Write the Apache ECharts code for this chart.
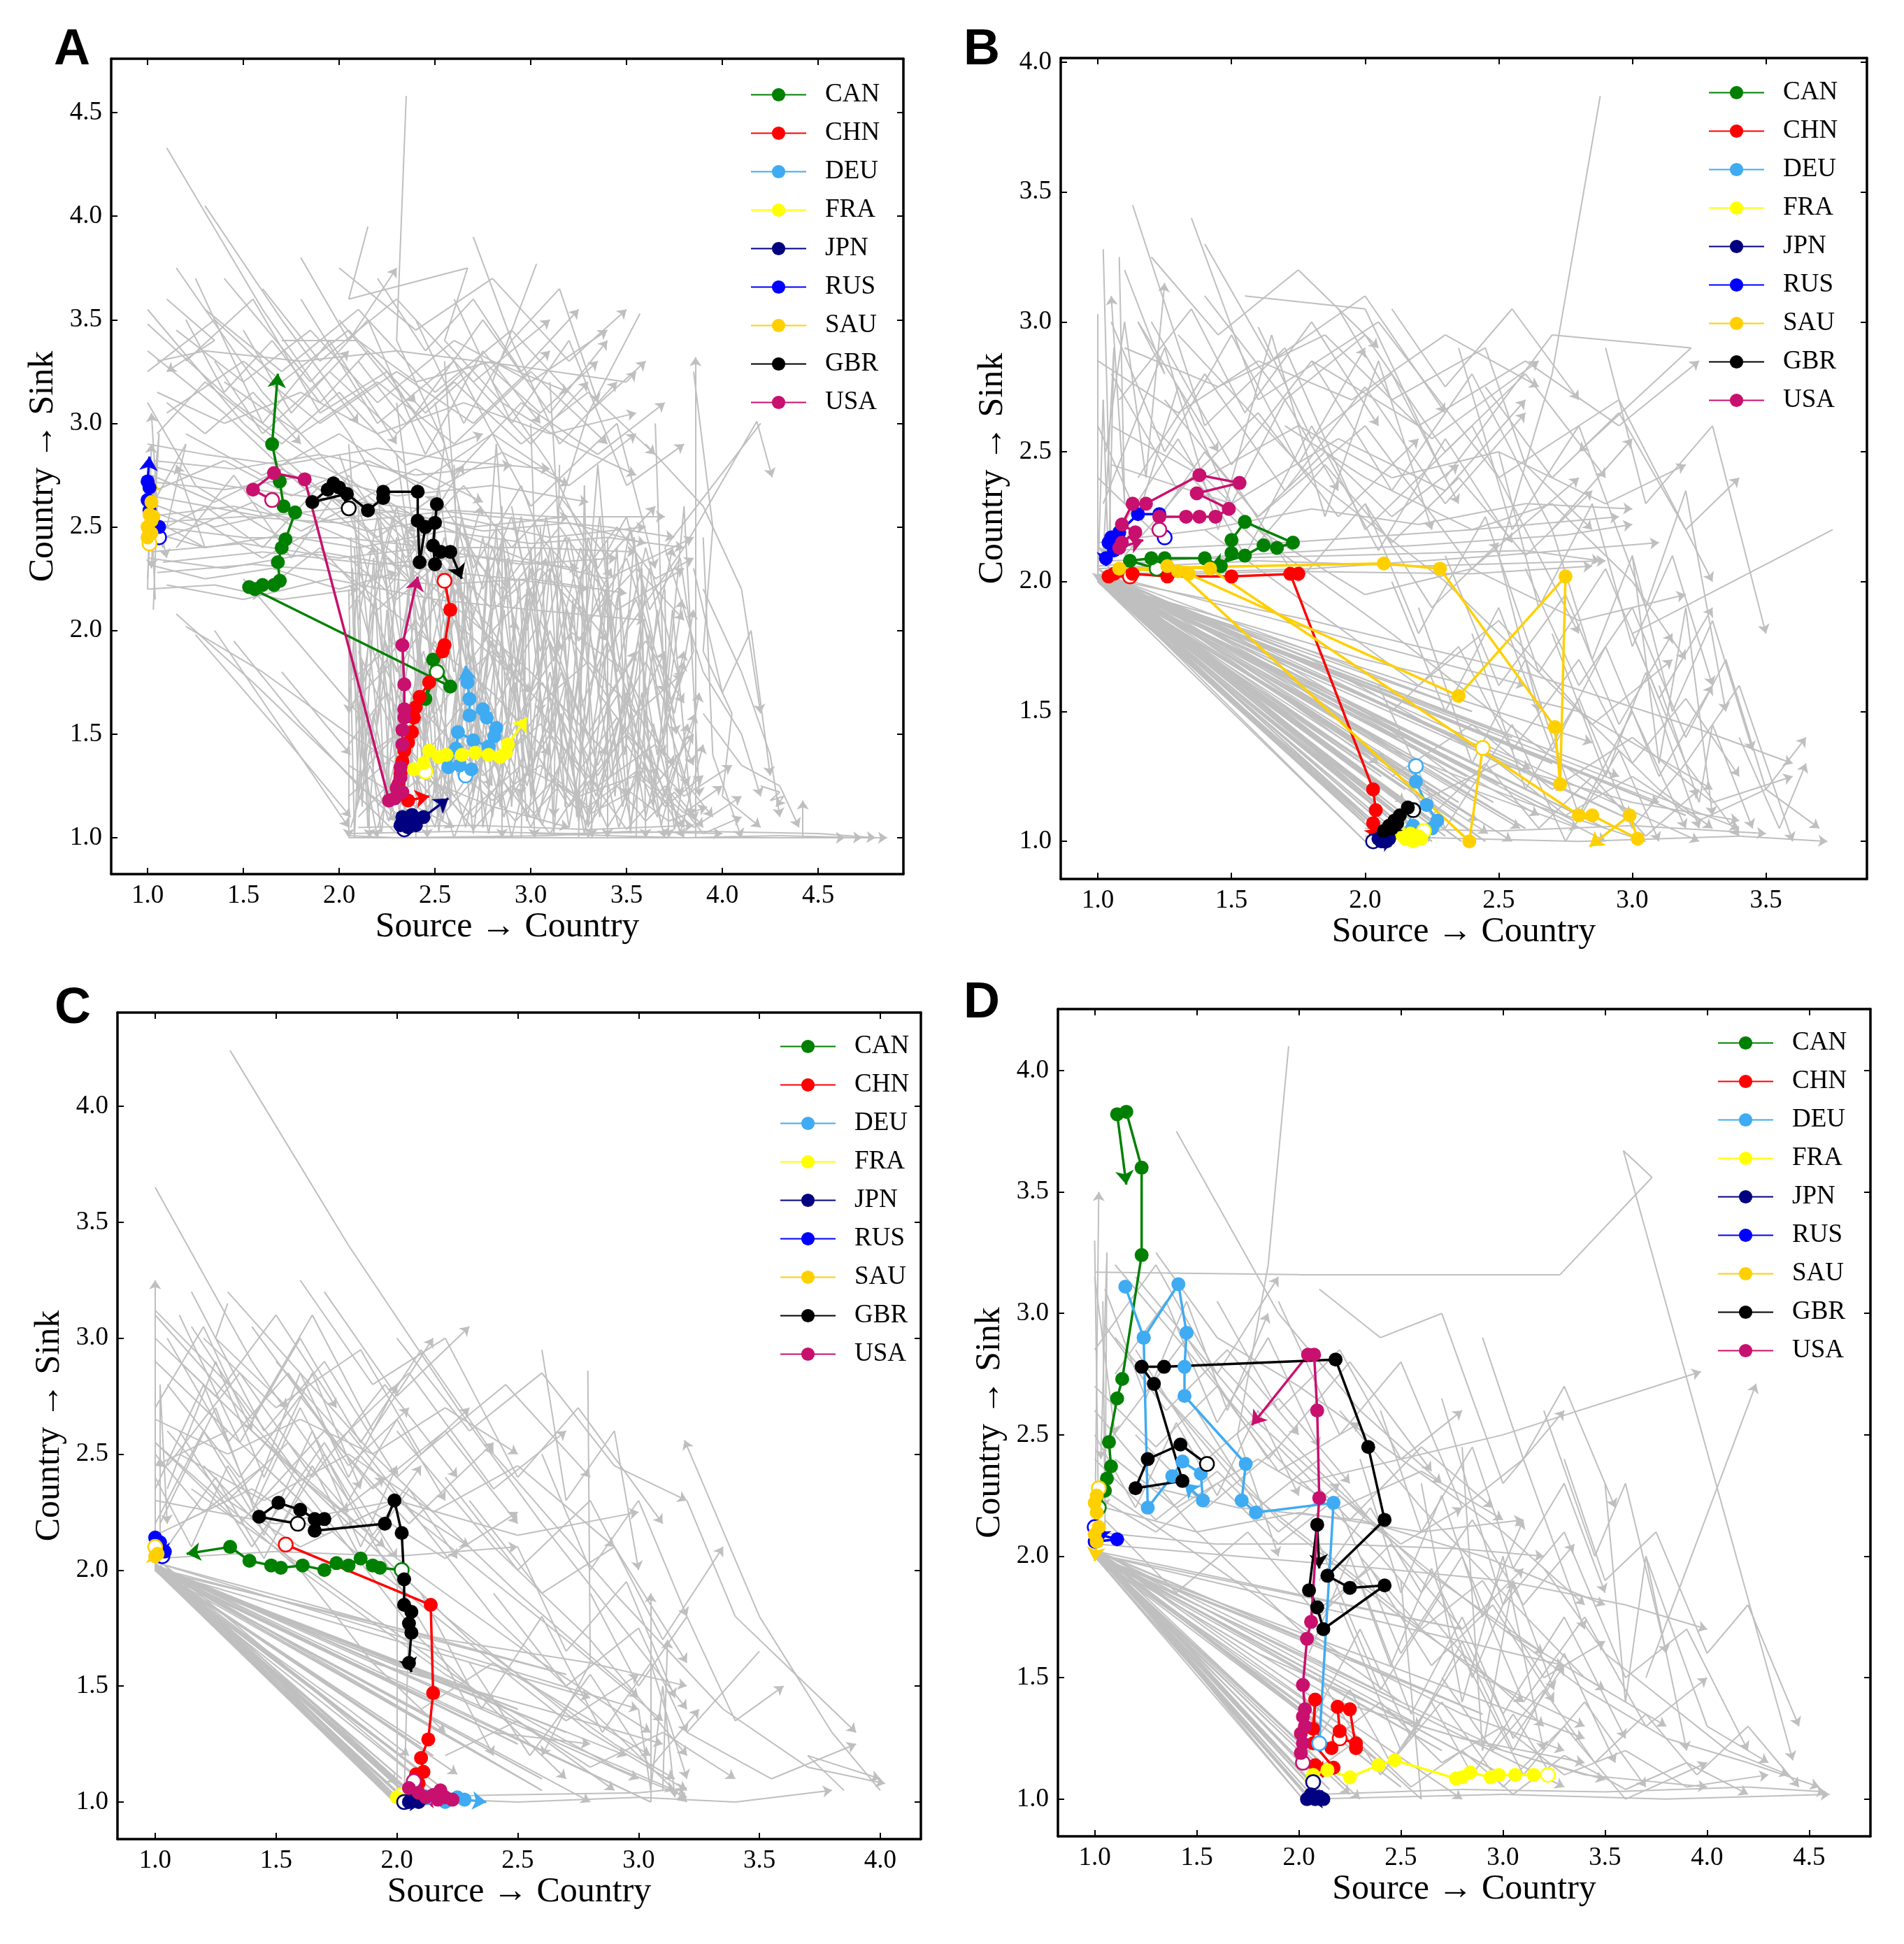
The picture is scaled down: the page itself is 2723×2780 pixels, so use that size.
<!DOCTYPE html>
<html>
<head>
<meta charset="utf-8">
<script src="https://cdn.jsdelivr.net/npm/echarts@6/dist/echarts.min.js"></script>
<style>
  html, body { margin: 0; padding: 0; background: #fff; }
  #main { width: 2723px; height: 2780px; }
</style>
</head>
<body>
<div id="main"></div>
<script>
// countries and colours shared by all four panels
const countries = ['CAN', 'CHN', 'DEU', 'FRA', 'JPN', 'RUS', 'SAU', 'GBR', 'USA'];
const colors = ['#008000', '#ff0000', '#3fabf2', '#ffff00', '#000080', '#0000ff', '#ffd000', '#000000', '#c8106e'];

// axis ranges per panel [xmin, xmax, ymin, ymax]
const rangeA = [0.81, 4.945, 0.8245, 4.76];
const rangeB = [0.861, 3.878, 0.855, 4.016];
const rangeC = [0.844, 4.168, 0.84, 4.404];
const rangeD = [0.82, 4.80, 0.847, 4.253];

// highlighted country tracks, flat x,y lists in the order of `countries`
// first point is drawn hollow, last point is the arrow head
const tracksA = [
  [2.51,1.80, 2.45,1.67, 2.49,1.86, 2.58,1.73, 1.53,2.21, 1.56,2.20, 1.60,2.22, 1.66,2.22, 1.69,2.24, 1.68,2.33, 1.70,2.40, 1.72,2.44, 1.77,2.57, 1.71,2.60, 1.69,2.72, 1.65,2.90, 1.68,3.24],
  [2.55,2.24, 2.58,2.10, 2.55,1.93, 2.54,1.90, 2.47,1.75, 2.42,1.68, 2.40,1.63, 2.39,1.58, 2.38,1.51, 2.36,1.46, 2.34,1.42, 2.33,1.37, 2.32,1.31, 2.31,1.26, 2.32,1.21, 2.36,1.18, 2.47,1.20],
  [2.66,1.30, 2.69,1.33, 2.63,1.35, 2.57,1.34, 2.61,1.43, 2.62,1.51, 2.70,1.47, 2.78,1.44, 2.81,1.49, 2.82,1.53, 2.77,1.58, 2.75,1.62, 2.68,1.59, 2.68,1.67, 2.67,1.75, 2.66,1.83],
  [2.45,1.32, 2.39,1.33, 2.44,1.36, 2.47,1.42, 2.52,1.39, 2.56,1.40, 2.64,1.40, 2.71,1.41, 2.78,1.40, 2.84,1.39, 2.87,1.41, 2.88,1.45, 2.98,1.58],
  [2.34,1.04, 2.32,1.06, 2.36,1.05, 2.33,1.10, 2.37,1.08, 2.40,1.06, 2.38,1.11, 2.41,1.09, 2.44,1.10, 2.57,1.19],
  [1.06,2.45, 1.06,2.50, 1.03,2.52, 1.01,2.58, 1.00,2.63, 1.01,2.69, 1.00,2.72, 1.01,2.84],
  [1.01,2.42, 1.00,2.45, 1.02,2.47, 1.00,2.50, 1.02,2.53, 1.03,2.55, 1.01,2.56, 1.02,2.62, 1.02,2.74],
  [2.05,2.59, 2.00,2.69, 1.97,2.71, 1.94,2.68, 1.86,2.62, 2.04,2.66, 2.15,2.58, 2.23,2.64, 2.23,2.67, 2.41,2.67, 2.41,2.53, 2.42,2.33, 2.45,2.50, 2.50,2.52, 2.51,2.61, 2.49,2.41, 2.50,2.32, 2.53,2.38, 2.58,2.38, 2.64,2.25],
  [1.65,2.63, 1.55,2.68, 1.66,2.76, 1.82,2.73, 2.26,1.18, 2.29,1.19, 2.33,1.22, 2.30,1.24, 2.32,1.29, 2.32,1.34, 2.33,1.45, 2.33,1.52, 2.34,1.58, 2.34,1.62, 2.34,1.74, 2.33,1.93, 2.41,2.26]
];
const tracksB = [
  [1.22,2.05, 1.12,2.08, 1.20,2.09, 1.25,2.09, 1.40,2.09, 1.46,2.06, 1.50,2.11, 1.50,2.16, 1.55,2.23, 1.73,2.15, 1.67,2.13, 1.62,2.14, 1.55,2.10, 1.42,2.06],
  [1.12,2.02, 1.04,2.02, 1.06,2.03, 1.13,2.03, 1.26,2.02, 1.50,2.02, 1.75,2.03, 1.72,2.03, 2.03,1.20, 2.04,1.12, 2.03,1.07, 2.04,1.03, 2.05,1.01],
  [2.19,1.29, 2.19,1.23, 2.23,1.14, 2.27,1.08, 2.25,1.05, 2.22,1.03, 2.18,1.06, 2.14,1.04],
  [2.22,1.04, 2.20,1.02, 2.17,1.03, 2.15,1.01, 2.18,1.00, 2.21,1.01, 2.16,1.02, 2.10,1.02],
  [2.03,1.00, 2.05,1.01, 2.07,1.00, 2.09,1.01, 2.06,1.00, 2.08,1.00, 2.11,1.01],
  [1.25,2.17, 1.23,2.26, 1.15,2.26, 1.08,2.19, 1.05,2.17, 1.04,2.15, 1.06,2.12, 1.03,2.09, 1.03,2.06],
  [2.44,1.36, 2.39,1.00, 1.30,2.04, 1.08,2.05, 2.07,2.07, 2.28,2.05, 2.71,1.44, 2.73,1.22, 2.75,2.02, 2.35,1.56, 1.34,2.03, 1.26,2.06, 1.42,2.05, 2.80,1.10, 2.85,1.10, 3.02,1.01, 2.99,1.10, 2.84,0.98],
  [2.18,1.12, 2.16,1.13, 2.13,1.10, 2.11,1.08, 2.09,1.06, 2.07,1.04, 2.10,1.05, 2.12,1.07, 2.08,1.03],
  [1.23,2.20, 1.23,2.25, 1.33,2.25, 1.38,2.25, 1.44,2.25, 1.49,2.28, 1.37,2.34, 1.53,2.38, 1.38,2.41, 1.18,2.30, 1.13,2.30, 1.09,2.22, 1.14,2.19, 1.09,2.15, 1.08,2.13, 1.17,2.16]
];
const tracksC = [
  [2.02,2.00, 1.93,2.01, 1.90,2.02, 1.85,2.05, 1.80,2.02, 1.75,2.03, 1.70,2.00, 1.61,2.02, 1.52,2.01, 1.48,2.02, 1.39,2.04, 1.31,2.10, 1.13,2.07],
  [1.54,2.11, 2.14,1.85, 2.15,1.47, 2.13,1.27, 2.10,1.19, 2.11,1.13, 2.08,1.12, 2.09,1.08, 2.07,1.05, 2.05,1.03],
  [2.12,1.02, 2.18,1.03, 2.22,1.01, 2.25,1.02, 2.20,1.00, 2.28,1.01, 2.37,1.00],
  [2.02,1.03, 2.00,1.02, 2.03,1.01, 1.99,1.01],
  [2.03,1.00, 2.06,1.01, 2.09,1.00, 2.05,1.00, 2.11,1.00],
  [1.03,2.06, 1.04,2.08, 1.01,2.10, 1.00,2.14, 1.02,2.12, 1.04,2.05],
  [1.00,2.10, 1.01,2.07, 1.00,2.06, 1.00,2.09],
  [1.59,2.20, 1.43,2.23, 1.51,2.29, 1.60,2.26, 1.66,2.22, 1.70,2.22, 1.66,2.17, 1.95,2.20, 1.99,2.30, 2.02,2.16, 2.03,1.96, 2.03,1.85, 2.06,1.82, 2.05,1.77, 2.06,1.73, 2.05,1.60, 2.06,1.56],
  [2.07,1.09, 2.05,1.06, 2.09,1.04, 2.12,1.02, 2.15,1.03, 2.18,1.05, 2.20,1.02, 2.23,1.01, 2.17,1.01, 2.10,1.02]
];
const tracksD = [
  [1.02,2.20, 1.05,2.27, 1.06,2.32, 1.08,2.37, 1.07,2.47, 1.11,2.65, 1.135,2.73, 1.23,3.24, 1.23,3.60, 1.155,3.83, 1.11,3.82, 1.155,3.53],
  [2.20,1.25, 2.28,1.23, 2.28,1.21, 2.25,1.37, 2.19,1.38, 2.20,1.28, 2.16,1.21, 2.07,1.29, 2.08,1.41, 2.07,1.23, 2.17,1.13, 2.08,1.14, 2.12,1.09],
  [2.10,1.23, 2.17,2.22, 1.79,2.18, 1.72,2.23, 1.74,2.38, 1.44,2.66, 1.44,2.78, 1.45,2.92, 1.41,3.12, 1.24,2.90, 1.15,3.11, 1.24,2.90, 1.26,2.20, 1.38,2.33, 1.43,2.39, 1.52,2.34, 1.53,2.23, 1.44,2.30],
  [3.22,1.10, 3.15,1.10, 3.06,1.10, 2.98,1.10, 2.94,1.09, 2.84,1.11, 2.80,1.09, 2.77,1.085, 2.47,1.16, 2.39,1.14, 2.25,1.09, 2.14,1.12, 2.07,1.10, 2.10,1.09],
  [2.07,1.07, 2.06,1.02, 2.04,1.00, 2.08,1.00, 2.10,1.01, 2.12,1.00, 2.05,1.00],
  [1.00,2.12, 1.01,2.08, 1.00,2.06, 1.11,2.07, 1.02,2.09, 1.00,2.10],
  [1.02,2.28, 1.01,2.25, 1.00,2.22, 1.01,2.18, 1.02,2.12, 1.00,2.09, 1.01,2.06, 1.00,1.98],
  [1.55,2.38, 1.42,2.46, 1.26,2.40, 1.20,2.28, 1.43,2.31, 1.29,2.71, 1.23,2.78, 1.34,2.78, 2.18,2.81, 2.34,2.45, 2.42,2.15, 2.14,1.92, 2.25,1.87, 2.42,1.88, 2.12,1.70, 2.09,1.79, 2.05,1.86, 2.09,2.13, 2.10,1.95],
  [2.02,1.15, 2.01,1.19, 2.02,1.23, 2.01,1.27, 2.03,1.30, 2.02,1.34, 2.03,1.37, 2.02,1.47, 2.04,1.66, 2.06,1.73, 2.10,2.24, 2.09,2.60, 2.075,2.83, 2.045,2.83, 1.77,2.54]
];

// background trajectories of all other countries (grey), flat x,y lists
const grayA = [
  [1.10,4.33, 1.60,3.55, 2.05,2.95, 2.30,2.55, 2.60,2.20, 2.90,1.80],
  [2.35,4.58, 2.30,3.40, 2.55,2.90, 2.48,2.40, 2.70,2.10, 2.62,1.50, 2.80,1.25],
  [1.00,3.48, 1.45,3.10, 1.90,2.80, 2.40,2.55, 2.95,2.35, 3.40,2.25, 3.85,2.45],
  [1.05,3.30, 1.30,3.35, 1.80,3.30, 2.30,3.35, 2.90,3.28, 3.50,3.20, 3.55,3.25],
  [2.15,3.95, 2.05,3.60, 2.67,3.75, 2.55,3.40, 2.85,3.10, 3.20,2.90, 3.55,2.75],
  [3.03,3.77, 2.80,3.20, 3.10,2.80, 3.30,2.40, 3.20,2.00, 3.50,1.80, 3.70,1.40],
  [3.57,3.53, 3.30,3.05, 3.15,2.60, 3.40,2.20, 3.35,1.70, 3.60,1.40, 3.80,1.05],
  [3.86,1.00, 3.86,3.32],
  [3.50,2.00, 3.80,2.40, 4.18,3.01, 4.26,2.74],
  [4.20,1.25, 4.30,1.22, 4.25,1.18, 4.32,1.20, 4.28,1.15],
  [4.42,1.00, 4.42,1.18],
  [2.05,1.00, 2.90,1.00, 3.60,1.00, 4.20,1.00, 4.64,1.00],
  [3.00,1.02, 3.80,1.00, 4.30,1.01, 4.73,1.00],
  [4.00,1.00, 4.86,1.00],
  [1.00,2.20, 1.02,2.90],
  [1.03,2.10, 1.05,2.60, 1.02,3.05],
  [1.00,2.80, 1.40,2.70, 1.80,2.65, 2.30,2.60, 2.80,2.55, 3.40,2.50, 3.75,2.45],
  [1.05,2.50, 1.50,2.45, 2.00,2.45, 2.50,2.40, 3.00,2.40, 3.55,2.38],
  [1.00,2.35, 1.40,2.30, 1.90,2.38, 2.40,2.30, 2.90,2.25, 3.30,2.20],
  [1.02,2.65, 1.60,2.55, 2.10,2.60, 2.70,2.50, 3.20,2.55],
  [1.10,2.22, 1.50,2.15, 1.95,2.25, 2.50,2.15, 3.00,2.10, 3.60,2.05],
  [1.00,3.10, 1.25,2.70, 1.60,2.50, 2.00,2.30, 2.40,2.00, 2.80,1.70, 3.10,1.40],
  [1.20,2.02, 1.60,1.80, 2.05,1.50, 2.40,1.30, 2.80,1.15, 3.20,1.05],
  [1.35,2.00, 2.05,1.05],
  [1.50,2.25, 2.10,1.60, 2.30,1.20, 2.60,1.05],
  [2.05,2.00, 2.05,1.00],
  [2.10,2.60, 2.12,1.40, 2.20,1.00],
  [2.20,2.55, 2.40,1.20, 2.60,2.40, 2.80,1.10, 3.00,2.30, 3.20,1.05, 3.40,2.20, 3.60,1.10, 3.80,1.90],
  [2.10,1.90, 2.50,1.05, 2.70,1.90, 2.90,1.00, 3.10,1.80, 3.30,1.00, 3.50,1.70, 3.70,1.00],
  [2.30,1.70, 2.60,1.20, 2.90,1.60, 3.20,1.15, 3.50,1.50, 3.80,1.20, 4.05,1.35],
  [2.15,1.40, 2.45,1.60, 2.75,1.30, 3.05,1.55, 3.35,1.25, 3.65,1.45, 3.95,1.10],
  [2.05,1.20, 2.35,1.45, 2.65,1.10, 2.95,1.35, 3.25,1.20, 3.55,1.30, 3.85,1.05, 4.10,1.20],
  [2.85,2.60, 2.85,1.00],
  [3.40,2.45, 3.40,1.00],
  [3.70,2.20, 3.72,1.00],
  [3.15,2.80, 3.12,1.10],
  [2.50,3.10, 2.70,2.30, 2.95,2.70, 3.25,1.95, 3.50,2.35, 3.75,1.60, 3.85,2.10],
  [1.80,3.60, 2.20,3.00, 2.60,3.30, 3.00,2.60, 3.45,3.00, 3.65,2.30],
  [1.40,3.70, 1.85,3.20, 2.15,3.50, 2.45,2.85, 2.75,3.35, 3.05,3.00],
  [1.20,3.30, 1.55,3.60, 1.90,3.05, 2.25,3.25, 2.60,2.75, 2.95,3.10, 3.35,2.85, 3.70,3.10],
  [1.05,2.95, 1.30,3.20, 1.70,2.90, 2.00,3.15, 2.35,2.80, 2.75,2.95],
  [2.60,3.60, 2.90,3.00, 3.20,3.40, 3.50,2.70, 3.80,2.90],
  [4.20,3.00, 3.70,2.40, 3.90,1.80, 4.10,1.50, 4.20,1.20],
  [3.90,2.45, 3.95,1.40, 4.10,1.00],
  [1.00,2.45, 1.30,2.60, 1.60,2.40, 1.90,2.70, 2.20,2.45, 2.50,2.65],
  [1.55,2.15, 1.90,2.40, 2.20,2.10, 2.50,2.35, 2.80,2.00, 3.10,2.30, 3.40,1.95],
  [2.00,2.85, 2.25,2.20, 2.55,2.60, 2.85,2.15, 3.15,2.50, 3.45,2.10, 3.80,2.30],
  [1.15,2.40, 1.45,2.75, 1.75,2.35, 2.05,2.75, 2.35,2.35, 2.65,2.80],
  [2.40,1.95, 2.55,1.40, 2.75,1.75, 2.95,1.25, 3.15,1.65, 3.35,1.30, 3.55,1.60, 3.75,1.35],
  [2.20,1.05, 2.40,1.60, 2.60,1.00, 2.80,1.50, 3.00,1.05, 3.20,1.45, 3.40,1.05, 3.60,1.35, 3.80,1.00],
  [2.10,2.30, 2.30,1.80, 2.55,2.20, 2.80,1.60, 3.05,2.05, 3.30,1.50, 3.55,1.90],
  [1.70,3.40, 2.10,3.40, 2.40,3.20, 2.80,3.30, 3.20,3.15],
  [2.90,2.60, 3.05,1.90, 3.20,2.45, 3.35,1.80, 3.55,2.15, 3.70,1.70],
  [2.45,2.50, 2.60,1.80, 2.75,2.45, 2.90,1.70, 3.00,2.20],
  [1.02,2.60, 1.20,2.90, 1.10,2.50, 1.30,2.40, 1.15,2.80],
  [1.25,3.70, 1.60,3.00, 1.95,3.40, 2.30,2.90],
  [2.20,2.70, 2.35,1.10],
  [2.60,2.80, 2.65,1.30],
  [3.00,3.00, 3.05,1.60],
  [2.08,2.40, 2.15,1.05, 2.25,2.10, 2.32,1.02, 2.45,1.85, 2.52,1.03, 2.68,2.25, 2.75,1.05, 2.92,2.05],
  [2.12,1.75, 2.22,1.02, 2.38,2.30, 2.48,1.10, 2.58,2.05, 2.70,1.02, 2.88,2.35, 2.98,1.08, 3.15,1.95],
  [3.05,2.50, 3.12,1.02, 3.22,2.15, 3.30,1.05, 3.45,2.40, 3.52,1.02, 3.62,2.00, 3.75,1.04, 3.88,1.70],
  [2.95,1.90, 3.02,1.20, 3.18,1.75, 3.25,1.08, 3.38,1.85, 3.48,1.15, 3.58,1.70, 3.68,1.06, 3.82,1.55],
  [2.06,2.55, 2.18,2.20, 2.28,2.55, 2.42,2.05, 2.55,2.45, 2.68,2.00, 2.80,2.40, 2.95,1.95, 3.08,2.35],
  [2.10,1.30, 2.30,1.50, 2.50,1.25, 2.70,1.55, 2.90,1.20, 3.10,1.50, 3.30,1.10, 3.50,1.45, 3.70,1.15, 3.90,1.30],
  [2.07,1.65, 2.28,1.85, 2.46,1.55, 2.66,1.80, 2.86,1.45, 3.06,1.75, 3.26,1.40, 3.46,1.70, 3.66,1.30],
  [2.20,1.15, 2.35,1.35, 2.55,1.12, 2.72,1.30, 2.92,1.08, 3.12,1.28, 3.32,1.12, 3.52,1.22, 3.72,1.08, 3.92,1.15],
  [3.20,2.60, 3.35,2.30, 3.50,2.55, 3.62,2.10, 3.78,2.35, 3.85,1.90, 3.70,1.60, 3.82,1.25],
  [2.62,2.60, 2.75,2.20, 2.90,2.55, 3.02,2.10, 3.18,2.45, 3.28,2.00, 3.42,2.30],
  [2.30,2.85, 2.40,2.20, 2.52,2.70, 2.60,2.15, 2.74,2.60],
  [2.05,2.20, 2.08,1.00, 2.12,1.85, 2.16,1.00],
  [2.40,1.00, 2.42,2.00, 2.46,1.00],
  [2.95,1.00, 2.98,2.20, 3.02,1.00],
  [3.55,1.00, 3.58,2.30, 3.60,1.00],
  [3.25,1.00, 3.28,2.70, 3.32,1.00],
  [1.00,2.55, 1.45,2.60, 1.85,2.52, 2.30,2.58, 2.75,2.48, 3.20,2.52, 3.60,2.42],
  [1.02,2.38, 1.50,2.42, 2.00,2.35, 2.45,2.40, 2.95,2.32, 3.45,2.35],
  [1.00,2.72, 1.40,2.68, 1.85,2.75, 2.30,2.65, 2.80,2.70, 3.30,2.62],
  [1.05,2.28, 1.55,2.32, 2.05,2.28, 2.50,2.22, 3.00,2.25, 3.50,2.18],
  [1.00,2.62, 1.35,2.50, 1.75,2.58, 2.15,2.48, 2.60,2.55, 3.10,2.45, 3.60,2.50],
  [1.03,2.82, 1.45,2.78, 1.90,2.85, 2.40,2.75, 2.90,2.80],
  [1.00,2.48, 1.30,2.40, 1.70,2.46, 2.10,2.40, 2.55,2.48, 3.00,2.42, 3.40,2.45, 3.80,2.40],
  [1.08,2.33, 1.60,2.38, 2.20,2.32, 2.70,2.36, 3.25,2.30],
  [1.00,2.90, 1.30,2.85, 1.70,2.80, 2.20,2.88, 2.60,2.82, 3.10,2.78],
  [1.00,2.25, 1.03,2.75, 1.01,2.40, 1.05,2.85, 1.02,2.30],
  [1.04,2.15, 1.02,2.55, 1.06,2.95, 1.03,2.45],
  [1.00,2.70, 1.08,2.40, 1.04,2.60, 1.10,2.35],
  [1.15,3.45, 1.50,3.20, 1.85,3.45, 2.20,3.10, 2.60,3.40, 3.00,3.20, 3.40,3.45],
  [1.30,3.55, 1.70,3.25, 2.10,3.55, 2.50,3.15, 2.90,3.45, 3.30,3.05, 3.60,3.30],
  [1.05,3.15, 1.40,3.00, 1.80,3.15, 2.20,2.95, 2.65,3.10, 3.10,2.95, 3.55,3.05],
  [1.60,3.65, 1.90,3.30, 2.30,3.60, 2.70,3.20, 3.10,3.50],
  [2.00,3.75, 2.40,3.45, 2.80,3.70, 3.20,3.30, 3.50,3.55],
  [1.10,3.60, 1.35,3.40, 1.10,3.25],
  [2.10,3.30, 2.35,3.00, 2.60,3.20, 2.95,2.90, 3.30,3.15, 3.65,2.85],
  [1.00,3.55, 1.50,3.00, 2.00,2.60, 2.50,2.20, 3.00,1.80, 3.40,1.40],
  [1.15,3.75, 1.60,3.15, 2.05,2.70, 2.55,2.25],
  [1.30,4.05, 1.70,3.50, 2.10,3.00],
  [1.00,3.35, 1.40,3.05, 1.80,2.70, 2.20,2.40, 2.60,2.05, 3.00,1.70],
  [1.25,1.98, 1.70,1.50, 2.06,1.10],
  [1.45,1.95, 1.80,1.55, 2.10,1.25, 2.40,1.05],
  [1.70,1.80, 2.06,1.40],
  [1.15,2.08, 1.55,1.75, 2.00,1.35, 2.30,1.08],
  [3.85,3.25, 3.95,2.50, 3.90,1.90, 4.05,1.60, 4.00,1.20, 4.20,1.05],
  [3.90,2.20, 4.10,1.80, 4.25,1.40, 4.30,1.10],
  [3.60,2.90, 3.90,2.60, 4.10,2.20, 4.20,1.60],
  [2.05,1.02, 2.60,1.03, 3.20,1.02, 3.90,1.03, 4.50,1.02, 4.80,1.00],
  [2.10,1.05, 2.70,1.06, 3.30,1.04, 3.85,1.06],
  [2.05,1.01, 2.30,1.00, 3.10,1.01, 3.50,1.03, 4.00,1.02],
  [2.06,1.90, 2.14,1.30, 2.24,1.95, 2.34,1.25, 2.44,2.15, 2.56,1.20, 2.64,1.95, 2.78,1.25, 2.86,2.10, 2.98,1.30, 3.08,2.05, 3.18,1.35, 3.30,2.05, 3.42,1.30, 3.56,1.95, 3.66,1.40, 3.80,1.85],
  [2.10,2.45, 2.20,1.55, 2.35,2.50, 2.45,1.45, 2.62,2.35, 2.72,1.50, 2.85,2.45, 2.98,1.55, 3.10,2.40, 3.22,1.60, 3.36,2.55, 3.48,1.50, 3.62,2.30, 3.76,1.50],
  [2.08,1.10, 2.18,1.60, 2.30,1.05, 2.42,1.70, 2.54,1.08, 2.66,1.65, 2.78,1.02, 2.92,1.75, 3.04,1.10, 3.16,1.60, 3.28,1.02, 3.40,1.65, 3.52,1.08, 3.64,1.55, 3.78,1.02, 3.90,1.45],
  [2.05,2.10, 2.25,2.35, 2.45,2.15, 2.65,2.40, 2.85,2.20, 3.05,2.45, 3.25,2.25, 3.45,2.50, 3.65,2.25, 3.85,2.35],
  [2.05,1.45, 2.25,1.70, 2.45,1.40, 2.65,1.65, 2.85,1.35, 3.05,1.62, 3.25,1.32, 3.45,1.58, 3.65,1.25, 3.85,1.50],
  [2.10,1.20, 2.30,1.02, 2.50,1.28, 2.70,1.04, 2.90,1.25, 3.10,1.02, 3.30,1.30, 3.50,1.04, 3.70,1.25, 3.90,1.02, 4.10,1.10],
  [2.15,2.00, 2.30,2.60, 2.48,1.90, 2.62,2.50, 2.80,1.85, 2.95,2.55, 3.12,1.85, 3.26,2.40, 3.45,1.80, 3.60,2.40, 3.78,1.75],
  [2.20,1.80, 2.40,2.05, 2.60,1.75, 2.80,2.00, 3.00,1.70, 3.20,1.98, 3.40,1.68, 3.60,1.95, 3.80,1.65],
  [2.55,3.30, 2.70,1.40, 2.82,2.90, 2.95,1.20],
  [3.10,3.20, 3.22,1.30, 3.35,2.80, 3.50,1.20],
  [3.65,3.00, 3.70,1.60, 3.80,2.60, 3.88,1.20],
  [1.00,2.58, 1.25,2.50, 1.55,2.62, 1.80,2.48, 2.10,2.62, 2.40,2.48],
  [1.00,2.42, 1.30,2.52, 1.60,2.35, 1.90,2.50, 2.20,2.38],
  [1.02,2.75, 1.35,2.62, 1.70,2.78, 2.05,2.60, 2.40,2.78, 2.75,2.62],
  [1.00,2.32, 1.30,2.25, 1.65,2.30, 2.00,2.20, 2.30,2.28],
  [1.05,2.68, 1.40,2.82, 1.75,2.65, 2.15,2.82, 2.50,2.68, 2.85,2.86, 3.20,2.70],
  [1.00,2.52, 1.50,2.55, 2.00,2.52, 2.60,2.58, 3.10,2.55, 3.70,2.55],
  [1.00,2.20, 1.35,2.22, 1.70,2.15, 2.10,2.20],
  [1.20,2.95, 1.60,2.75, 2.00,2.95, 2.40,2.70, 2.80,2.95, 3.20,2.70, 3.55,2.95],
  [1.40,3.20, 1.80,2.95, 2.20,3.20, 2.60,2.90, 3.00,3.25, 3.40,2.90],
  [1.10,3.05, 1.50,3.30, 1.90,3.00, 2.30,3.25, 2.70,3.00, 3.10,3.35],
  [2.00,3.50, 2.40,3.05, 2.75,3.50, 3.10,3.05, 3.40,3.40],
  [2.70,3.90, 2.90,3.40, 3.15,3.65, 3.35,3.10],
  [1.50,3.45, 1.75,3.05, 2.05,3.35],
  [3.85,2.30, 4.00,1.70, 4.15,2.00, 4.25,1.30],
  [3.90,1.60, 4.10,1.35, 4.30,1.25, 4.40,1.05],
  [2.05,2.90, 2.10,2.30, 2.05,1.60],
  [2.30,3.10, 2.40,2.40],
  [2.07,2.30, 2.12,1.15, 2.20,2.40, 2.27,1.10, 2.36,2.20, 2.44,1.30, 2.50,2.50, 2.58,1.15, 2.66,2.30, 2.74,1.35, 2.82,2.50, 2.90,1.15, 3.00,2.40, 3.08,1.25, 3.16,2.20, 3.24,1.10, 3.34,2.35, 3.44,1.20, 3.54,2.45, 3.64,1.15, 3.74,2.10, 3.84,1.10],
  [2.09,1.55, 2.19,2.15, 2.29,1.40, 2.39,2.05, 2.49,1.60, 2.59,2.25, 2.69,1.35, 2.79,1.95, 2.89,1.50, 2.99,2.15, 3.09,1.40, 3.19,2.10, 3.29,1.55, 3.39,2.20, 3.49,1.40, 3.59,2.05, 3.69,1.50, 3.79,2.15],
  [2.06,1.05, 2.16,1.35, 2.26,1.08, 2.36,1.45, 2.46,1.12, 2.56,1.40, 2.66,1.05, 2.76,1.45, 2.86,1.10, 2.96,1.40, 3.06,1.06, 3.16,1.38, 3.26,1.12, 3.36,1.42, 3.46,1.05, 3.56,1.35, 3.66,1.10, 3.76,1.40, 3.86,1.08],
  [2.10,2.05, 2.20,2.55, 2.32,1.95, 2.42,2.45, 2.54,1.90, 2.64,2.55, 2.76,1.95, 2.86,2.45, 2.98,2.00, 3.08,2.55, 3.20,1.95, 3.30,2.45, 3.42,2.00, 3.52,2.50, 3.64,1.95, 3.74,2.40],
  [2.05,1.75, 2.30,1.95, 2.55,1.70, 2.80,1.90, 3.05,1.65, 3.30,1.85, 3.55,1.60, 3.80,1.80],
  [2.05,1.35, 2.30,1.20, 2.55,1.38, 2.80,1.18, 3.05,1.35, 3.30,1.15, 3.55,1.32, 3.80,1.12, 4.00,1.25],
  [1.20,3.50, 1.40,3.15, 1.65,3.40, 1.90,3.10, 2.15,3.35, 2.45,3.05, 2.75,3.30, 3.05,3.05, 3.35,3.30],
  [1.35,3.30, 1.60,2.95, 1.95,3.25, 2.30,2.95, 2.65,3.25, 3.00,2.90, 3.30,3.20],
  [1.10,3.10, 1.30,2.95, 1.55,3.15, 1.80,2.90],
  [2.20,3.70, 2.45,3.35, 2.70,3.60, 2.95,3.25, 3.25,3.55],
  [1.80,3.80, 2.05,3.40, 2.30,3.75],
  [1.00,3.25, 1.35,3.50, 1.70,3.20, 2.05,3.45, 2.40,3.10],
  [2.40,3.50, 2.65,3.00, 2.90,3.40, 3.15,2.90, 3.45,3.20],
  [2.10,2.15, 2.35,1.35, 2.60,2.05, 2.85,1.25, 3.10,2.00, 3.35,1.35, 3.60,1.85, 3.85,1.35],
  [2.06,2.45, 2.10,1.20, 2.18,2.35, 2.24,1.15, 2.30,2.45, 2.36,1.25, 2.46,2.30, 2.52,1.10, 2.60,2.20, 2.70,1.20, 2.78,2.35, 2.84,1.15, 2.94,2.25, 3.00,1.20, 3.10,2.30, 3.18,1.15, 3.26,2.25, 3.36,1.10, 3.46,2.20, 3.56,1.25, 3.66,2.10, 3.78,1.20],
  [2.08,1.85, 2.26,1.25, 2.44,1.90, 2.62,1.30, 2.80,1.85, 2.98,1.25, 3.16,1.80, 3.34,1.20, 3.52,1.75, 3.70,1.20, 3.86,1.60],
  [2.05,1.60, 2.20,1.90, 2.35,1.60, 2.50,1.95, 2.65,1.60, 2.80,1.95, 2.95,1.60, 3.10,1.95, 3.25,1.60, 3.40,1.95, 3.55,1.60, 3.70,1.90],
  [2.10,1.10, 2.25,1.25, 2.40,1.08, 2.55,1.25, 2.70,1.10, 2.85,1.28, 3.00,1.10, 3.15,1.25, 3.30,1.06, 3.45,1.25, 3.60,1.08, 3.75,1.22, 3.90,1.05],
  [2.05,2.35, 2.30,2.15, 2.55,2.35, 2.80,2.10, 3.05,2.30, 3.30,2.05, 3.55,2.30, 3.80,2.05],
  [2.15,2.65, 2.40,2.45, 2.65,2.70, 2.90,2.40, 3.15,2.65, 3.40,2.35, 3.65,2.60]
];
const grayB = [
  [1.00,2.00, 2.10,1.00, 1.02,2.03, 2.30,1.02, 1.00,2.01, 2.55,1.00],
  [1.00,2.00, 2.05,1.02, 1.01,2.02, 2.25,1.00, 1.00,2.05, 2.60,1.05, 1.02,2.00, 2.90,1.00],
  [1.00,2.01, 2.15,1.05, 1.03,2.04, 2.45,1.00, 1.00,2.00, 3.00,1.08, 1.05,2.02, 3.25,1.00],
  [1.00,2.02, 2.08,1.10, 1.00,2.00, 2.35,1.15, 1.04,2.01, 2.75,1.20],
  [1.00,2.05, 1.60,2.08, 2.20,2.06, 2.90,2.08],
  [1.05,2.12, 1.70,2.15, 2.40,2.20, 2.95,2.25],
  [1.10,2.03, 1.80,2.05, 2.50,2.10, 3.10,2.15],
  [1.00,3.03, 1.00,2.00],
  [1.02,3.28, 1.05,2.10],
  [1.08,3.25, 1.10,2.30, 1.05,3.10],
  [1.13,3.45, 1.40,2.60, 1.70,2.90, 2.00,2.20, 2.40,2.60, 2.80,1.80],
  [1.35,3.40, 1.60,2.70, 2.05,3.00, 2.50,2.40, 2.95,2.70, 3.30,2.00],
  [2.88,3.87, 2.70,2.80, 2.50,2.10, 2.65,1.50],
  [1.55,3.10, 2.00,3.05, 2.30,2.40, 2.70,2.95, 3.22,2.90, 2.80,2.50],
  [3.75,2.20, 3.00,1.80, 3.20,1.30, 3.40,1.60, 3.60,1.00],
  [2.00,1.02, 2.80,1.00, 3.40,1.02, 3.73,1.00],
  [1.30,2.95, 1.80,2.40, 2.30,2.00, 2.70,1.60, 3.10,1.20, 3.30,1.05],
  [1.20,2.60, 1.70,2.10, 2.10,1.80, 2.60,1.40, 3.00,1.10],
  [1.05,2.80, 1.30,2.35, 1.60,2.65, 1.90,2.25, 2.20,2.55],
  [2.35,2.90, 2.55,2.20, 2.80,2.60, 3.05,1.90, 3.20,2.35, 3.35,1.50],
  [1.70,2.60, 2.00,2.40, 2.40,2.20, 2.70,2.30, 3.00,2.00, 3.20,1.70],
  [2.20,1.90, 2.40,1.30, 2.60,1.70, 2.80,1.10, 3.00,1.50, 3.20,1.05],
  [2.05,1.60, 2.30,1.05, 2.55,1.45, 2.75,1.00, 2.95,1.35, 3.10,1.00],
  [1.40,2.20, 1.80,1.90, 2.20,1.60, 2.50,1.85, 2.85,1.45, 3.15,1.70],
  [1.05,2.45, 1.50,2.30, 1.90,2.55, 2.30,2.35, 2.60,2.70],
  [1.10,3.20, 1.25,2.80, 1.15,3.00, 1.45,2.50],
  [2.90,2.90, 3.05,2.30, 3.30,2.60, 3.50,1.80],
  [1.60,2.98, 1.80,2.55, 2.10,2.80, 2.35,2.30],
  [1.90,3.05, 2.10,2.70, 2.45,2.90, 2.60,2.45, 2.85,2.20],
  [2.45,2.75, 2.70,2.40, 2.95,2.65, 3.20,2.20, 3.40,2.40],
  [1.00,2.00, 1.50,1.80, 2.00,1.50, 2.40,1.20, 2.80,1.05],
  [1.00,2.00, 1.60,1.70, 2.10,1.35, 2.60,1.15, 3.05,1.00],
  [1.02,2.02, 1.80,1.70, 2.50,1.30, 3.00,1.15, 3.40,1.08],
  [3.10,1.60, 3.25,1.15, 3.30,1.45, 3.45,1.05],
  [1.50,2.40, 1.75,2.00, 2.00,2.30, 2.25,1.90, 2.50,2.15],
  [1.00,2.00, 2.00,1.00, 1.01,2.01, 2.12,1.02, 1.00,2.02, 2.20,1.06, 1.02,2.00, 2.32,1.03, 1.00,2.01, 2.42,1.08],
  [1.00,2.03, 2.06,1.05, 1.00,2.00, 2.18,1.12, 1.03,2.02, 2.28,1.18, 1.00,2.00, 2.50,1.22, 1.01,2.04, 2.65,1.10],
  [1.00,2.00, 2.04,1.15, 1.02,2.01, 2.15,1.20, 1.00,2.00, 2.38,1.25, 1.00,2.02, 2.70,1.30, 1.04,2.00, 2.95,1.25],
  [1.00,2.01, 2.10,1.30, 1.00,2.00, 2.30,1.35, 1.02,2.02, 2.55,1.40, 1.00,2.00, 2.85,1.38],
  [1.00,2.00, 2.00,1.08, 1.00,2.03, 2.24,1.00, 1.02,2.00, 2.48,1.15, 1.00,2.01, 2.78,1.08, 1.00,2.00, 3.10,1.15],
  [1.00,2.02, 2.02,1.20, 1.01,2.00, 2.12,1.40, 1.00,2.01, 2.40,1.50, 1.02,2.03, 2.60,1.60],
  [1.00,2.00, 1.40,1.75, 1.80,1.50, 2.05,1.30],
  [1.00,2.02, 1.80,1.85, 2.60,1.65, 3.20,1.45, 3.60,1.30],
  [1.00,2.00, 2.00,1.70, 2.80,1.50, 3.30,1.20],
  [1.00,2.02, 1.70,2.04, 2.40,2.03, 2.85,2.06],
  [1.02,2.08, 1.90,2.10, 2.60,2.12, 2.88,2.08],
  [1.00,2.06, 1.50,2.10, 2.20,2.14, 2.75,2.18, 3.00,2.22],
  [1.00,2.00, 1.02,2.70, 1.04,2.05, 1.06,2.90, 1.02,2.10],
  [1.20,3.00, 1.50,2.45, 1.80,2.85, 2.10,2.35, 2.40,2.80, 2.70,2.20, 3.00,2.55],
  [1.10,2.90, 1.45,2.75, 1.85,2.95, 2.25,2.55, 2.65,2.85],
  [1.40,3.30, 1.65,2.85, 2.00,3.10, 2.30,2.65],
  [1.05,2.60, 1.40,2.40, 1.75,2.60, 2.10,2.40, 2.50,2.50, 2.90,2.30, 3.20,2.45],
  [1.25,2.70, 1.60,2.25, 2.00,2.60, 2.40,2.05, 2.80,2.40],
  [2.10,3.05, 2.30,2.75, 2.55,3.05, 2.80,2.70],
  [1.80,2.85, 2.20,2.60, 2.60,2.85, 2.95,2.60, 3.25,2.85],
  [2.60,2.05, 2.80,1.60, 3.00,1.90, 3.20,1.40, 3.35,1.70, 3.50,1.20, 3.65,1.40],
  [2.40,1.80, 2.60,1.20, 2.80,1.55, 3.00,1.05, 3.20,1.30, 3.40,1.02],
  [2.10,1.25, 2.40,1.45, 2.70,1.20, 3.00,1.40, 3.30,1.15, 3.60,1.25],
  [2.30,2.10, 2.50,1.60, 2.75,1.95, 2.95,1.45, 3.15,1.80],
  [3.00,2.10, 3.10,1.30, 3.20,1.90, 3.30,1.10],
  [2.00,1.05, 2.50,1.04, 3.00,1.06, 3.50,1.03],
  [3.40,1.40, 3.55,1.05, 3.65,1.30],
  [2.70,1.80, 2.90,1.25, 3.05,1.65, 3.25,1.05],
  [1.02,2.30, 1.25,2.90, 1.45,2.20, 1.65,2.95, 1.85,2.25, 2.05,2.85, 2.25,2.20],
  [1.05,2.15, 1.30,2.55, 1.55,2.10, 1.80,2.60, 2.05,2.12, 2.30,2.55, 2.55,2.15],
  [1.00,2.40, 1.20,2.20, 1.40,2.50, 1.60,2.25, 1.85,2.50, 2.10,2.25, 2.35,2.45],
  [1.08,2.70, 1.35,3.05, 1.55,2.65, 1.80,3.00, 2.05,2.60],
  [1.00,2.85, 1.30,2.65, 1.60,2.85, 1.95,2.70, 2.30,2.95, 2.65,2.75],
  [1.15,2.40, 1.40,2.80, 1.70,2.35, 2.00,2.75, 2.30,2.30, 2.60,2.65],
  [1.00,2.15, 1.40,2.20, 1.80,2.28, 2.20,2.22, 2.60,2.30, 3.00,2.28],
  [1.03,2.50, 1.10,3.00, 1.18,2.40, 1.25,3.15],
  [1.20,3.25, 1.45,2.95, 1.75,3.20, 2.05,2.90],
  [2.00,2.30, 2.20,1.80, 2.45,2.25, 2.65,1.65, 2.90,2.05, 3.10,1.55, 3.30,1.90],
  [2.10,1.50, 2.35,1.75, 2.55,1.35, 2.80,1.70, 3.00,1.30, 3.20,1.55, 3.40,1.25],
  [2.20,1.15, 2.50,1.30, 2.75,1.10, 3.00,1.25, 3.25,1.08, 3.50,1.20, 3.70,1.05],
  [2.50,2.50, 2.65,1.90, 2.85,2.30, 3.00,1.75, 3.15,2.10, 3.30,1.60],
  [1.60,2.20, 2.00,1.95, 2.40,2.05, 2.80,1.85, 3.20,1.95],
  [1.00,2.00, 2.08,1.02, 1.00,2.01, 2.16,1.00, 1.01,2.00, 2.28,1.05, 1.00,2.02, 2.36,1.00, 1.00,2.00, 2.46,1.03],
  [1.00,2.01, 2.02,1.05, 1.02,2.00, 2.10,1.08, 1.00,2.00, 2.22,1.10, 1.00,2.03, 2.34,1.12, 1.01,2.01, 2.58,1.05],
  [1.00,2.00, 2.06,1.25, 1.00,2.02, 2.20,1.30, 1.01,2.00, 2.45,1.35, 1.00,2.01, 2.62,1.28],
  [1.00,2.02, 1.50,1.65, 2.00,1.25, 1.02,2.00, 1.70,1.50, 2.15,1.15],
  [1.00,2.00, 2.90,1.05, 1.00,2.02, 3.20,1.10, 1.02,2.00, 3.40,1.05],
  [1.00,2.60, 1.15,2.25, 1.30,2.75, 1.50,2.30, 1.70,2.70, 1.90,2.35],
  [1.05,3.00, 1.25,2.50, 1.50,2.95, 1.75,2.45, 2.00,2.90],
  [1.10,2.10, 1.35,2.40, 1.60,2.15, 1.85,2.45, 2.10,2.15, 2.35,2.40, 2.60,2.10, 2.85,2.35],
  [1.40,3.10, 1.70,2.70, 2.00,2.95, 2.30,2.50, 2.60,2.80, 2.90,2.40],
  [2.10,2.00, 2.30,1.50, 2.50,1.90, 2.70,1.35, 2.90,1.75, 3.10,1.25, 3.30,1.60],
  [2.05,1.35, 2.25,1.10, 2.45,1.30, 2.65,1.05, 2.85,1.25, 3.05,1.02, 3.25,1.20],
  [2.70,2.20, 2.85,1.70, 3.00,2.10, 3.15,1.50, 3.30,1.85, 3.45,1.35]
];
const grayC = [
  [1.31,4.24, 1.80,3.40, 2.25,2.70, 2.60,2.20, 2.90,1.80, 3.20,1.40],
  [1.00,3.65, 1.40,2.90, 1.80,2.30, 2.20,1.60, 2.40,1.20],
  [1.00,2.00, 2.00,1.00, 1.02,2.02, 2.05,1.05, 1.00,2.01, 2.10,1.00],
  [1.00,2.02, 1.98,1.02, 1.00,2.00, 2.15,1.05, 1.03,2.03, 2.02,1.00],
  [1.00,2.00, 3.05,1.00, 1.02,2.01, 3.15,1.05],
  [1.00,2.01, 2.60,1.10, 1.01,2.00, 2.80,1.00],
  [1.00,2.00, 1.00,3.25],
  [1.02,2.10, 1.02,2.80, 1.05,2.20],
  [1.00,3.12, 1.35,2.75, 1.60,2.40, 1.95,2.10],
  [1.15,3.20, 1.45,2.60, 1.70,2.90, 2.00,2.40, 2.30,2.70],
  [1.60,3.25, 1.90,2.80, 2.20,3.00, 2.50,2.40, 2.75,2.70, 3.10,2.20],
  [1.30,3.15, 1.25,3.00, 1.55,2.70],
  [2.79,2.86, 2.80,1.60, 2.60,1.20],
  [4.00,1.05, 3.80,1.30, 3.50,1.80, 3.19,2.56],
  [2.40,2.50, 2.90,1.90, 3.35,1.40, 3.70,1.15, 4.02,1.08],
  [3.05,1.00, 3.05,1.90],
  [3.10,1.05, 3.12,1.70],
  [2.00,1.02, 2.50,1.00, 3.00,1.02, 3.40,1.00, 3.80,1.05],
  [1.80,2.60, 2.10,2.20, 2.40,1.80, 2.70,1.50, 3.00,1.20, 3.20,1.00],
  [2.20,2.40, 2.50,2.00, 2.80,2.30, 3.10,1.70, 3.35,2.10],
  [1.50,2.50, 1.80,2.10, 2.10,1.70, 2.40,1.40, 2.70,1.10],
  [1.05,2.60, 1.30,2.30, 1.55,2.55, 1.80,2.25],
  [2.00,2.00, 2.00,1.00],
  [2.05,1.80, 2.03,1.02],
  [3.50,1.65, 3.20,1.30, 3.55,1.10, 3.90,1.25],
  [2.60,2.95, 2.70,2.30, 2.90,2.60, 3.00,2.00],
  [1.20,2.45, 1.60,2.00, 1.90,1.60, 2.20,1.30],
  [3.85,1.05, 3.70,1.20, 4.00,1.10],
  [1.00,2.00, 2.00,1.02, 1.01,2.02, 2.04,1.00, 1.00,2.01, 2.02,1.05, 1.02,2.00, 2.06,1.02, 1.00,2.03, 2.00,1.08],
  [1.00,2.00, 2.02,1.10, 1.00,2.02, 2.08,1.15, 1.01,2.00, 2.15,1.20, 1.00,2.01, 2.25,1.12],
  [1.00,2.01, 2.35,1.20, 1.02,2.00, 2.50,1.25, 1.00,2.02, 2.70,1.30, 1.00,2.00, 2.95,1.20],
  [1.00,2.00, 2.40,1.45, 1.00,2.01, 2.70,1.55, 1.01,2.03, 3.00,1.40],
  [1.00,2.02, 1.90,1.60, 2.60,1.40, 3.10,1.25],
  [1.00,2.00, 1.60,1.85, 2.20,1.70, 2.80,1.60, 3.20,1.50],
  [1.05,2.80, 1.35,2.40, 1.60,2.75, 1.90,2.35, 2.20,2.60, 2.50,2.20],
  [1.20,3.00, 1.50,2.70, 1.85,2.95, 2.10,2.50, 2.45,2.80, 2.80,2.40],
  [1.10,2.50, 1.45,2.30, 1.80,2.50, 2.15,2.25, 2.50,2.45, 2.90,2.10],
  [1.40,3.05, 1.75,2.55, 2.05,2.85, 2.40,2.35, 2.70,2.60],
  [1.00,2.30, 1.50,2.20, 2.00,2.30, 2.50,2.15, 3.00,2.25],
  [1.00,2.90, 1.30,2.60, 1.00,2.45],
  [2.00,3.00, 2.30,2.60, 2.60,2.85, 2.90,2.45, 3.20,2.30],
  [1.70,3.20, 2.00,2.75, 2.30,3.05],
  [2.10,1.90, 2.35,1.40, 2.60,1.80, 2.85,1.30, 3.05,1.60, 3.20,1.10],
  [2.20,1.20, 2.50,1.35, 2.80,1.15, 3.10,1.30, 3.40,1.10],
  [2.40,1.90, 2.70,1.50, 3.00,1.75, 3.20,1.30],
  [3.00,1.40, 3.05,1.05, 3.10,1.50, 3.15,1.02],
  [2.05,1.02, 2.40,1.03, 3.00,1.04, 3.20,1.06],
  [1.02,2.20, 1.25,2.70, 1.45,2.15, 1.65,2.60, 1.85,2.10, 2.00,2.45],
  [1.00,2.50, 1.20,2.25, 1.45,2.45, 1.70,2.20, 1.95,2.40],
  [1.05,3.00, 1.30,2.55, 1.55,2.85, 1.80,2.45, 2.05,2.70],
  [1.00,2.70, 1.20,3.05, 1.40,2.60],
  [1.10,2.20, 1.40,2.35, 1.70,2.15, 2.00,2.30, 2.30,2.10],
  [1.00,2.05, 1.50,2.08, 2.00,2.06, 2.50,2.10],
  [1.00,2.00, 2.00,1.04, 1.00,2.01, 2.01,1.00, 1.01,2.00, 2.03,1.06, 1.00,2.02, 1.99,1.00, 1.00,2.00, 2.05,1.00],
  [1.00,2.00, 2.10,1.25, 1.00,2.01, 2.30,1.35, 1.02,2.00, 2.50,1.40, 1.00,2.00, 2.80,1.45],
  [1.00,2.01, 2.20,1.05, 1.00,2.00, 2.60,1.05, 1.01,2.02, 3.00,1.10],
  [2.30,1.60, 2.55,1.20, 2.80,1.55, 3.05,1.15, 3.25,1.40],
  [2.50,2.10, 2.70,1.65, 2.95,1.95, 3.15,1.45],
  [2.80,1.90, 3.00,1.50, 3.20,1.80, 3.40,1.35, 3.60,1.50],
  [2.10,1.40, 2.40,1.60, 2.70,1.35, 3.00,1.55],
  [3.20,2.30, 3.40,1.80, 3.60,1.60, 3.90,1.30],
  [1.00,2.40, 1.15,2.10, 1.30,2.45, 1.50,2.15, 1.70,2.50, 1.90,2.15, 2.10,2.45],
  [1.05,2.35, 1.25,2.90, 1.45,2.40, 1.65,2.85, 1.85,2.35],
  [1.00,2.65, 1.30,2.50, 1.60,2.65, 1.90,2.50, 2.20,2.70, 2.50,2.50],
  [1.10,3.10, 1.35,2.55, 1.60,3.00, 1.85,2.55, 2.10,2.95, 2.40,2.50],
  [1.00,2.15, 1.30,2.30, 1.60,2.10, 1.90,2.25, 2.20,2.05, 2.50,2.25],
  [1.00,2.00, 1.50,1.75, 2.00,1.50, 2.40,1.30, 2.80,1.25],
  [1.00,2.02, 1.40,1.70, 1.80,1.40, 2.05,1.20],
  [1.00,3.10, 1.60,2.40, 2.20,1.80, 2.80,1.30, 3.20,1.05],
  [1.10,2.90, 1.70,2.30, 2.30,1.70, 2.90,1.25, 3.15,1.10],
  [1.30,3.20, 1.90,2.50, 2.50,1.90, 3.00,1.45],
  [1.20,2.70, 1.80,2.10, 2.40,1.60, 3.05,1.20],
  [1.50,2.90, 2.10,2.20, 2.70,1.70, 3.10,1.35],
  [1.00,2.55, 1.60,2.00, 2.20,1.55, 2.90,1.15, 3.20,1.02],
  [1.40,2.60, 2.00,2.05, 2.60,1.60, 3.05,1.30],
  [2.00,2.60, 2.40,2.10, 2.80,1.70, 3.20,1.20],
  [1.15,2.35, 1.70,1.95, 2.30,1.50, 2.90,1.05],
  [2.30,2.30, 2.60,1.90, 2.90,2.10, 3.20,1.60],
  [2.60,2.50, 2.80,2.00, 3.00,2.30, 3.20,1.80],
  [1.00,2.20, 1.20,2.60, 1.40,2.25, 1.60,2.70, 1.80,2.30, 2.00,2.65, 2.20,2.30],
  [1.05,2.45, 1.35,2.85, 1.65,2.40, 1.95,2.80, 2.25,2.40],
  [1.00,3.00, 1.25,2.75, 1.50,3.10, 1.75,2.70],
  [1.10,2.60, 1.40,2.10, 1.70,2.55, 2.00,2.05],
  [1.00,2.35, 1.20,2.80, 1.40,2.30, 1.60,2.85, 1.80,2.40, 2.00,2.80],
  [1.05,2.10, 1.25,2.40, 1.45,2.05, 1.65,2.45, 1.85,2.05, 2.05,2.35, 2.25,2.05],
  [1.00,2.55, 1.35,2.20, 1.70,2.60, 2.05,2.20, 2.40,2.55],
  [1.15,3.05, 1.40,2.65, 1.65,3.10, 1.90,2.60, 2.15,3.00]
];
const grayD = [
  [1.95,4.10, 1.85,3.20, 1.70,2.50, 1.90,2.00],
  [1.40,3.75, 1.90,3.00, 2.30,2.60, 2.70,2.30],
  [1.00,3.17, 2.00,3.16, 3.28,3.16, 3.73,3.56, 3.59,3.67, 4.42,1.16],
  [2.00,2.30, 3.00,2.50, 3.97,2.76],
  [3.70,1.50, 4.24,2.71],
  [2.05,1.00, 3.00,1.02, 3.80,1.00, 4.60,1.02],
  [1.00,2.00, 2.05,1.00, 1.02,2.02, 2.10,1.03, 1.00,2.01, 2.30,1.00],
  [1.00,2.02, 2.00,1.05, 1.03,2.00, 2.50,1.05, 1.00,2.03, 2.80,1.00],
  [1.00,2.00, 1.80,1.60, 2.60,1.30, 3.40,1.10, 4.00,1.05],
  [1.00,2.00, 1.02,3.50],
  [1.05,2.10, 1.06,3.25, 1.03,2.40],
  [1.00,3.15, 1.10,2.50],
  [1.10,3.20, 1.50,2.80, 1.90,2.40, 2.40,2.00, 2.80,1.60, 3.20,1.30],
  [1.30,3.25, 1.60,2.90, 2.00,2.70, 2.50,2.40, 3.00,2.10, 3.40,1.80],
  [1.90,3.05, 2.20,2.50, 2.50,2.80, 2.80,2.20, 3.10,2.40, 3.40,1.70],
  [2.10,3.10, 2.40,2.90, 2.70,3.00, 3.00,2.30, 3.30,2.60],
  [2.70,2.65, 3.00,1.80, 3.30,2.10, 3.60,1.50, 3.90,1.70, 4.20,1.20],
  [3.50,2.30, 3.60,1.40, 3.70,2.00, 3.90,1.20],
  [1.00,2.10, 1.60,2.05, 2.20,2.05, 2.80,2.03, 3.20,2.00],
  [1.20,2.30, 1.70,2.20, 2.30,2.15, 2.90,2.00, 3.50,1.80],
  [2.20,1.80, 2.50,1.20, 2.80,1.60, 3.10,1.10, 3.40,1.40, 3.70,1.05],
  [2.10,1.50, 2.40,1.10, 2.70,1.40, 3.00,1.05, 3.30,1.30, 3.60,1.00, 4.00,1.15],
  [3.20,1.95, 3.50,1.60, 3.80,1.40, 4.10,1.20, 4.40,1.10],
  [2.30,2.00, 2.60,1.70, 2.90,1.90, 3.20,1.50, 3.50,1.65],
  [1.50,2.60, 1.80,2.20, 2.10,2.40, 2.40,2.10],
  [2.80,2.45, 2.90,1.20, 3.05,1.90],
  [3.70,2.00, 4.00,1.30, 4.30,1.15],
  [3.20,2.60, 3.45,2.00, 3.60,2.30, 3.80,1.60],
  [2.50,1.90, 2.60,1.00, 2.20,1.30],
  [1.00,2.00, 2.02,1.00, 1.01,2.02, 2.06,1.05, 1.00,2.01, 2.12,1.02, 1.02,2.00, 2.20,1.08, 1.00,2.03, 2.04,1.12],
  [1.00,2.00, 2.40,1.15, 1.00,2.02, 2.70,1.20, 1.01,2.00, 3.00,1.10, 1.00,2.01, 3.30,1.05],
  [1.00,2.02, 2.10,1.30, 1.00,2.00, 2.50,1.40, 1.02,2.02, 2.90,1.35, 1.00,2.00, 3.40,1.25],
  [1.00,2.00, 2.20,1.60, 1.01,2.02, 2.80,1.70, 1.00,2.01, 3.30,1.55],
  [1.02,2.05, 1.70,2.00, 2.40,1.95, 3.00,1.90, 3.60,1.80, 4.00,1.70],
  [1.05,2.20, 1.50,2.10, 2.00,2.18, 2.60,2.10, 3.10,2.15],
  [1.10,2.40, 1.40,2.20, 1.80,2.40, 2.20,2.20, 2.60,2.35, 3.00,2.15],
  [1.00,2.70, 1.30,2.45, 1.60,2.70, 1.90,2.35, 2.30,2.55],
  [1.05,2.95, 1.35,2.60, 1.65,2.85, 2.00,2.50],
  [2.20,2.20, 2.50,1.60, 2.80,2.00, 3.10,1.40, 3.40,1.75, 3.70,1.30, 4.00,1.50],
  [2.10,1.20, 2.40,1.40, 2.70,1.15, 3.00,1.30, 3.30,1.10, 3.60,1.20, 3.90,1.05, 4.30,1.10],
  [2.30,1.90, 2.55,1.35, 2.80,1.75, 3.05,1.25, 3.30,1.55],
  [2.60,2.30, 2.80,1.40, 3.00,2.00, 3.20,1.20],
  [3.00,1.70, 3.40,1.45, 3.80,1.25, 4.20,1.15, 4.55,1.05],
  [2.10,1.02, 2.80,1.04, 3.50,1.03, 4.20,1.05, 4.58,1.03],
  [1.60,3.05, 1.90,2.60, 2.20,2.85, 2.50,2.40, 2.80,2.60],
  [1.20,2.85, 1.55,2.40, 1.90,2.65, 2.25,2.30],
  [1.00,3.30, 1.02,2.10],
  [1.04,3.05, 1.05,2.20],
  [1.05,2.15, 1.40,1.85, 1.75,2.10, 2.10,1.75, 2.45,2.05, 2.80,1.70, 3.10,1.95],
  [2.05,1.30, 2.30,1.70, 2.55,1.25, 2.80,1.65, 3.05,1.20, 3.30,1.60, 3.55,1.15],
  [2.10,1.90, 2.35,2.20, 2.60,1.85, 2.85,2.15, 3.10,1.80, 3.35,2.05],
  [2.05,1.10, 2.30,1.25, 2.55,1.05, 2.80,1.20, 3.05,1.02, 3.30,1.18, 3.60,1.04, 3.90,1.15, 4.20,1.02],
  [1.20,2.50, 1.55,2.20, 1.90,2.45, 2.25,2.15, 2.60,2.45, 2.95,2.20],
  [1.00,2.40, 1.30,2.15, 1.60,2.35, 1.90,2.10, 2.20,2.30],
  [1.10,2.75, 1.35,3.05, 1.60,2.55, 1.85,2.90, 2.10,2.45],
  [2.40,2.60, 2.60,2.10, 2.85,2.45, 3.05,1.95, 3.30,2.30, 3.50,1.85],
  [2.70,1.50, 2.95,1.20, 3.20,1.45, 3.45,1.15, 3.70,1.35, 3.95,1.10, 4.20,1.30, 4.45,1.05],
  [1.00,2.00, 2.04,1.02, 1.00,2.02, 2.08,1.00, 1.01,2.00, 2.15,1.04, 1.00,2.01, 2.25,1.02],
  [1.00,2.01, 2.00,1.20, 1.00,2.00, 2.30,1.25, 1.02,2.02, 2.60,1.30],
  [3.30,2.40, 3.50,1.90, 3.75,2.10, 4.00,1.60, 4.20,1.80, 4.45,1.30],
  [2.90,2.90, 3.10,2.40, 3.30,2.70, 3.55,2.20],
  [1.00,2.50, 1.20,2.20, 1.40,2.55, 1.60,2.25, 1.80,2.60, 2.00,2.25],
  [1.05,3.10, 1.25,2.65, 1.45,3.05, 1.65,2.60, 1.85,3.00],
  [1.00,2.25, 1.30,2.10, 1.60,2.30, 1.90,2.05, 2.20,2.25, 2.50,2.05, 2.80,2.20],
  [2.05,1.60, 2.25,2.00, 2.45,1.55, 2.65,1.95, 2.85,1.50, 3.05,1.90, 3.25,1.45],
  [2.05,1.20, 2.25,1.45, 2.45,1.15, 2.65,1.40, 2.85,1.10, 3.05,1.35, 3.25,1.08],
  [1.00,2.00, 1.60,1.70, 2.20,1.40, 2.80,1.25, 3.40,1.15],
  [2.30,2.40, 2.50,1.85, 2.70,2.25, 2.90,1.75, 3.10,2.15],
  [1.00,2.60, 1.50,2.10, 2.00,1.70, 2.50,1.40, 3.00,1.20, 3.50,1.08],
  [1.10,2.90, 1.70,2.30, 2.30,1.90, 2.90,1.50, 3.40,1.30],
  [1.20,3.15, 1.80,2.55, 2.40,2.10, 3.00,1.70, 3.50,1.45],
  [1.30,2.70, 1.90,2.15, 2.50,1.75, 3.10,1.40],
  [1.00,2.30, 1.60,1.95, 2.20,1.60, 2.80,1.35, 3.30,1.20],
  [1.60,2.80, 2.10,2.35, 2.60,1.95, 3.20,1.60],
  [2.20,2.60, 2.60,2.20, 3.00,1.85, 3.40,1.50, 3.80,1.30],
  [1.05,2.45, 1.45,2.90, 1.85,2.40, 2.25,2.80, 2.65,2.35],
  [1.00,2.85, 1.30,3.20, 1.60,2.75, 1.90,3.15],
  [2.10,2.05, 2.40,1.45, 2.70,1.85, 3.00,1.35, 3.30,1.75, 3.60,1.25],
  [2.05,1.75, 2.35,1.95, 2.65,1.55, 2.95,1.80, 3.25,1.40]
];

// page layout (pixels) for each panel
const SERIF = 'serif';
const panels = [
  { letter: 'A', left: 159, top: 84, width: 1133, height: 1166, range: rangeA, tracks: tracksA, gray: grayA, legendLeft: 1068, legendTop: 112, lx: 77, ly: 74 },
  { letter: 'B', left: 1517, top: 83, width: 1153, height: 1174, range: rangeB, tracks: tracksB, gray: grayB, legendLeft: 2438, legendTop: 109, lx: 1378, ly: 74 },
  { letter: 'C', left: 168, top: 1448, width: 1149, height: 1182, range: rangeC, tracks: tracksC, gray: grayC, legendLeft: 1110, legendTop: 1473, lx: 78, ly: 1445 },
  { letter: 'D', left: 1513, top: 1443, width: 1162, height: 1183, range: rangeD, tracks: tracksD, gray: grayD, legendLeft: 2451, legendTop: 1468, lx: 1378, ly: 1437 }
];

function pairs(flat) {
  const out = [];
  for (let i = 0; i < flat.length; i += 2) out.push([flat[i], flat[i + 1]]);
  return out;
}

function axisBase(i, min, max) {
  return {
    type: 'value', gridIndex: i, min: min, max: max,
    minInterval: 0.5, maxInterval: 0.5,
    splitLine: { show: false },
    axisLine: { show: true, onZero: false, lineStyle: { color: '#000', width: 3.5 } },
    axisTick: { show: true, inside: true, length: 9, lineStyle: { color: '#000', width: 2 } }
  };
}

// tick labels and axis titles go through rich text so the serif face is used
const tickRich = { t: { fontFamily: SERIF, fontSize: 37, color: '#000' } };
const nameRich = { n: { fontFamily: SERIF, fontSize: 50, color: '#000' } };
const labelStyle = {
  fontFamily: SERIF, fontSize: 37, color: '#000',
  showMinLabel: false, showMaxLabel: false,
  formatter: v => '{t|' + v.toFixed(1) + '}',
  rich: tickRich
};

const option = {
  animation: false,
  backgroundColor: '#fff',
  textStyle: { fontFamily: SERIF },
  grid: [], xAxis: [], yAxis: [], legend: [], series: [], graphic: []
};

panels.forEach((p, i) => {
  const r = p.range;
  option.grid.push({ left: p.left, top: p.top, width: p.width, height: p.height, show: false });

  option.xAxis.push(Object.assign(axisBase(i, r[0], r[1]), {
    position: 'bottom',
    name: '{n|Source → Country}', nameLocation: 'middle', nameGap: 50,
    nameTextStyle: { fontFamily: SERIF, fontSize: 50, color: '#000', rich: nameRich },
    axisLabel: Object.assign({ margin: 13 }, labelStyle)
  }));
  option.xAxis.push(Object.assign(axisBase(i, r[0], r[1]), { position: 'top', axisLabel: { show: false } }));
  option.yAxis.push(Object.assign(axisBase(i, r[2], r[3]), {
    position: 'left',
    name: '{n|Country → Sink}', nameLocation: 'middle', nameGap: 72,
    nameTextStyle: { fontFamily: SERIF, fontSize: 50, color: '#000', rich: nameRich },
    axisLabel: Object.assign({ margin: 13 }, labelStyle)
  }));
  option.yAxis.push(Object.assign(axisBase(i, r[2], r[3]), { position: 'right', axisLabel: { show: false } }));

  const xi = 2 * i, yi = 2 * i;

  // grey background: body segments and final arrow segments
  const body = [], heads = [];
  p.gray.forEach(flat => {
    const pts = pairs(flat);
    for (let k = 0; k < pts.length - 1; k++) {
      const seg = { coords: [pts[k], pts[k + 1]] };
      if (k === pts.length - 2) heads.push(seg); else body.push(seg);
    }
  });
  option.series.push({
    type: 'lines', coordinateSystem: 'cartesian2d', xAxisIndex: xi, yAxisIndex: yi,
    z: 2, silent: true, symbol: ['none', 'none'],
    lineStyle: { color: '#bfbfbf', width: 2, opacity: 1 },
    data: body
  });
  option.series.push({
    type: 'lines', coordinateSystem: 'cartesian2d', xAxisIndex: xi, yAxisIndex: yi,
    z: 2, silent: true, symbol: ['none', 'arrow'], symbolSize: 13,
    lineStyle: { color: '#bfbfbf', width: 2, opacity: 1 },
    data: heads
  });

  // highlighted countries
  const arrows = [];
  p.tracks.forEach((flat, c) => {
    const pts = pairs(flat);
    const col = colors[c];
    const data = pts.slice(0, pts.length - 1).map((pt, k) => k === 0
      ? { value: pt, itemStyle: { color: '#fff', borderColor: col, borderWidth: 2.5 } }
      : { value: pt });
    option.series.push({
      type: 'line', name: countries[c], xAxisIndex: xi, yAxisIndex: yi, z: 4,
      symbol: 'circle', symbolSize: 20, showSymbol: true, showAllSymbol: true,
      color: col,
      itemStyle: { color: col },
      lineStyle: { color: col, width: 3.5 },
      data: data
    });
    arrows.push({ coords: [pts[pts.length - 2], pts[pts.length - 1]], lineStyle: { color: col } });
  });
  option.series.push({
    type: 'lines', coordinateSystem: 'cartesian2d', xAxisIndex: xi, yAxisIndex: yi,
    z: 4, silent: true, symbol: ['none', 'arrow'], symbolSize: 20,
    lineStyle: { width: 3.5, opacity: 1 },
    data: arrows
  });

  option.legend.push({
    data: countries, orient: 'vertical', left: p.legendLeft, top: p.legendTop,
    itemWidth: 79, itemHeight: 24, itemGap: 18, selectedMode: false,
    textStyle: { fontFamily: SERIF, fontSize: 37, color: '#000', padding: [0, 0, 0, 22] }
  });

  option.graphic.push({
    type: 'text', left: p.lx, top: p.ly - 38, z: 10,
    style: { text: p.letter, font: 'bold 72px sans-serif', fill: '#000' }
  });
});

const chart = echarts.init(document.getElementById('main'), null, { renderer: 'canvas' });
chart.setOption(option);
</script>
</body>
</html>
